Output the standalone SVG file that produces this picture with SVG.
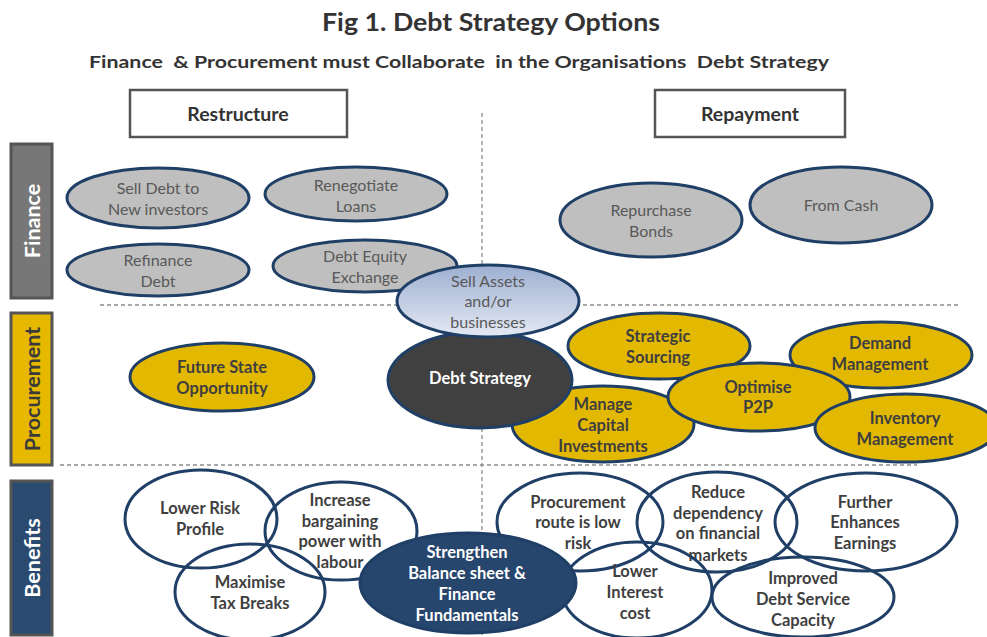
<svg xmlns="http://www.w3.org/2000/svg" width="987" height="637" viewBox="0 0 987 637">
  <defs>
    <linearGradient id="assetGrad" x1="0" y1="0" x2="0" y2="1">
      <stop offset="0" stop-color="#9DAFD1"/>
      <stop offset="1" stop-color="#E4E9F3"/>
    </linearGradient>
  </defs>
  <style>
    text { font-family: Lato, "Open Sans", "Liberation Sans", sans-serif; text-anchor: middle; }
    .title { font-size: 24px; font-weight: bold; fill: #333333; }
    .sub { font-size: 17px; font-weight: bold; fill: #333333; }
    .head { font-size: 19.5px; font-weight: bold; fill: #333333; }
    .hbox { fill: #FFFFFF; stroke: #555555; stroke-width: 2.5; }
    .side { font-size: 21.5px; font-weight: bold; }
    .divider { stroke: #8C8C8C; stroke-width: 1.3; stroke-dasharray: 4 3; fill: none; }
    .fin { fill: #BFBFBF; stroke: #203F66; stroke-width: 3; }
    .fin-t { font-size: 16px; fill: #595959; }
    .proc { fill: #E3B800; stroke: #203F66; stroke-width: 3; }
    .proc-t { font-size: 16.5px; font-weight: bold; fill: #3F3F3F; }
    .ben { fill: none; stroke: #203F66; stroke-width: 3; }
    .ben-t { font-size: 16.5px; font-weight: bold; fill: #3F3F3F; }
    .light { font-size: 16.5px; font-weight: bold; fill: #FFFFFF; }
  </style>

  <!-- headings -->
  <text class="title" x="491" y="31" textLength="338" lengthAdjust="spacingAndGlyphs">Fig 1. Debt Strategy Options</text>
  <text class="sub" x="459" y="68" textLength="740" lengthAdjust="spacingAndGlyphs" xml:space="preserve">Finance  &amp; Procurement must Collaborate  in the Organisations  Debt Strategy</text>

  <g id="restructure">
    <rect class="hbox" x="130" y="90" width="217" height="47"/>
    <text class="head" x="238" y="121">Restructure</text>
  </g>
  <g id="repayment">
    <rect class="hbox" x="655" y="90" width="190" height="47"/>
    <text class="head" x="750" y="121">Repayment</text>
  </g>

  <!-- lane dividers -->
  <g id="connectors">
    <line class="divider" x1="482" y1="113" x2="482" y2="637"/>
    <line class="divider" x1="100" y1="305" x2="958" y2="305"/>
    <line class="divider" x1="60" y1="465" x2="917" y2="465"/>
  </g>

  <!-- lane labels -->
  <g id="lane-finance">
    <rect x="11" y="144" width="41" height="154" fill="#777777" stroke="#555555" stroke-width="3"/>
    <text class="side" fill="#FFFFFF" transform="translate(39.5 221) rotate(-90)">Finance</text>
  </g>
  <g id="lane-procurement">
    <rect x="11" y="313" width="41" height="152" fill="#E6B800" stroke="#555555" stroke-width="3"/>
    <text class="side" fill="#3A3A3A" transform="translate(39.5 389) rotate(-90)">Procurement</text>
  </g>
  <g id="lane-benefits">
    <rect x="11" y="481" width="41" height="154" fill="#2B4A70" stroke="#555555" stroke-width="3"/>
    <text class="side" fill="#FFFFFF" transform="translate(39.5 558) rotate(-90)">Benefits</text>
  </g>

  <!-- finance options -->
  <g id="sell-debt">
    <ellipse class="fin" cx="158" cy="198" rx="91" ry="30"/>
    <text class="fin-t" x="158" y="194">Sell Debt to</text>
    <text class="fin-t" x="158" y="215">New investors</text>
  </g>
  <g id="renegotiate">
    <ellipse class="fin" cx="356" cy="194" rx="91" ry="27"/>
    <text class="fin-t" x="356" y="191">Renegotiate</text>
    <text class="fin-t" x="356" y="212">Loans</text>
  </g>
  <g id="refinance">
    <ellipse class="fin" cx="158" cy="270" rx="91" ry="26"/>
    <text class="fin-t" x="158" y="266">Refinance</text>
    <text class="fin-t" x="158" y="287">Debt</text>
  </g>
  <g id="debt-equity">
    <ellipse class="fin" cx="365" cy="266" rx="92" ry="26"/>
    <text class="fin-t" x="365" y="262">Debt Equity</text>
    <text class="fin-t" x="365" y="283">Exchange</text>
  </g>
  <g id="repurchase">
    <ellipse class="fin" cx="651" cy="220" rx="91" ry="37"/>
    <text class="fin-t" x="651" y="216">Repurchase</text>
    <text class="fin-t" x="651" y="237">Bonds</text>
  </g>
  <g id="from-cash">
    <ellipse class="fin" cx="841" cy="205" rx="91" ry="38"/>
    <text class="fin-t" x="841" y="211">From Cash</text>
  </g>

  <!-- procurement options -->
  <g id="future-state">
    <ellipse class="proc" cx="222" cy="377" rx="92" ry="34"/>
    <text class="proc-t" x="222" y="373">Future State</text>
    <text class="proc-t" x="222" y="394">Opportunity</text>
  </g>
  <g id="strategic-sourcing">
    <ellipse class="proc" cx="659" cy="346" rx="91" ry="33"/>
    <text class="proc-t" x="658" y="342">Strategic</text>
    <text class="proc-t" x="658" y="363">Sourcing</text>
  </g>
  <g id="demand-management">
    <ellipse class="proc" cx="881" cy="355" rx="91" ry="33"/>
    <text class="proc-t" x="880" y="349">Demand</text>
    <text class="proc-t" x="880" y="370">Management</text>
  </g>
  <g id="manage-capital">
    <ellipse class="proc" cx="603" cy="424" rx="91" ry="38"/>
    <text class="proc-t" x="603" y="410">Manage</text>
    <text class="proc-t" x="603" y="431">Capital</text>
    <text class="proc-t" x="603" y="452">Investments</text>
  </g>
  <g id="optimise-p2p">
    <ellipse class="proc" cx="759" cy="397" rx="91" ry="34"/>
    <text class="proc-t" x="758" y="393">Optimise</text>
    <text class="proc-t" x="758" y="413">P2P</text>
  </g>
  <g id="inventory-management">
    <ellipse class="proc" cx="906" cy="428" rx="91" ry="34"/>
    <text class="proc-t" x="905" y="424">Inventory</text>
    <text class="proc-t" x="905" y="445">Management</text>
  </g>

  <!-- central node -->
  <g id="debt-strategy">
    <ellipse cx="480" cy="380" rx="92" ry="48" fill="#404040" stroke="#203F66" stroke-width="3"/>
    <text class="light" x="480" y="384">Debt Strategy</text>
  </g>
  <g id="sell-assets">
    <ellipse cx="488" cy="301" rx="91" ry="36" fill="url(#assetGrad)" stroke="#203F66" stroke-width="3"/>
    <text class="fin-t" x="488" y="287">Sell Assets</text>
    <text class="fin-t" x="488" y="307">and/or</text>
    <text class="fin-t" x="488" y="328">businesses</text>
  </g>

  <!-- benefits -->
  <g id="lower-risk">
    <ellipse class="ben" cx="201" cy="519" rx="76" ry="49"/>
    <text class="ben-t" x="200" y="514">Lower Risk</text>
    <text class="ben-t" x="200" y="535">Profile</text>
  </g>
  <g id="bargaining-power">
    <ellipse class="ben" cx="341" cy="531" rx="76" ry="49"/>
    <text class="ben-t" x="340" y="506">Increase</text>
    <text class="ben-t" x="340" y="527">bargaining</text>
    <text class="ben-t" x="340" y="547">power with</text>
    <text class="ben-t" x="340" y="568">labour</text>
  </g>
  <g id="tax-breaks">
    <ellipse class="ben" cx="250" cy="592" rx="75" ry="48"/>
    <text class="ben-t" x="250" y="588">Maximise</text>
    <text class="ben-t" x="250" y="609">Tax Breaks</text>
  </g>
  <g id="low-risk-route">
    <ellipse class="ben" cx="580" cy="522" rx="83" ry="49"/>
    <text class="ben-t" x="578" y="508">Procurement</text>
    <text class="ben-t" x="578" y="528">route is low</text>
    <text class="ben-t" x="578" y="549">risk</text>
  </g>
  <g id="reduce-dependency">
    <ellipse class="ben" cx="717" cy="522" rx="80" ry="50"/>
    <text class="ben-t" x="718" y="498">Reduce</text>
    <text class="ben-t" x="718" y="519">dependency</text>
    <text class="ben-t" x="718" y="539">on financial</text>
    <text class="ben-t" x="718" y="561">markets</text>
  </g>
  <g id="enhances-earnings">
    <ellipse class="ben" cx="866" cy="522" rx="91" ry="49"/>
    <text class="ben-t" x="865" y="508">Further</text>
    <text class="ben-t" x="865" y="528">Enhances</text>
    <text class="ben-t" x="865" y="549">Earnings</text>
  </g>
  <g id="lower-interest">
    <ellipse class="ben" cx="637" cy="590" rx="75" ry="48"/>
    <text class="ben-t" x="635" y="577">Lower</text>
    <text class="ben-t" x="635" y="598">Interest</text>
    <text class="ben-t" x="635" y="619">cost</text>
  </g>
  <g id="debt-service">
    <ellipse class="ben" cx="803" cy="597" rx="91" ry="40"/>
    <text class="ben-t" x="803" y="584">Improved</text>
    <text class="ben-t" x="803" y="605">Debt Service</text>
    <text class="ben-t" x="803" y="626">Capacity</text>
  </g>
  <g id="strengthen">
    <ellipse cx="468" cy="583" rx="108" ry="50" fill="#27466E" stroke="#203F66" stroke-width="3"/>
    <text class="light" x="467" y="558">Strengthen</text>
    <text class="light" x="467" y="579">Balance sheet &amp;</text>
    <text class="light" x="467" y="600">Finance</text>
    <text class="light" x="467" y="621">Fundamentals</text>
  </g>
</svg>
